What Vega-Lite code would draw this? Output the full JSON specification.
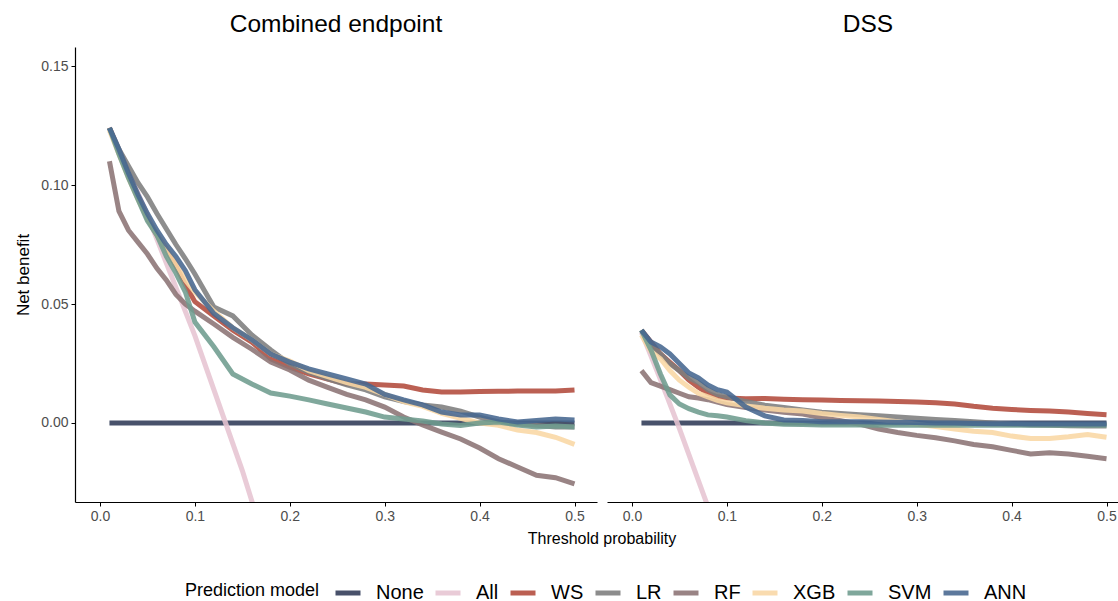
{
"$schema": "https://vega.github.io/schema/vega-lite/v6.json",
"padding": {"left": 14, "top": 11, "right": 0, "bottom": 0},
"background": "white",
"data": {"values": [
{"p":"C","m":"None","t":0.01,"v":0},{"p":"C","m":"None","t":0.5,"v":0},
{"p":"C","m":"All","t":0.01,"v":0.1242},{"p":"C","m":"All","t":0.05,"v":0.0874},{"p":"C","m":"All","t":0.1,"v":0.0367},{"p":"C","m":"All","t":0.15,"v":-0.02},{"p":"C","m":"All","t":0.2,"v":-0.0838},
{"p":"C","m":"WS","t":0.01,"v":0.124},{"p":"C","m":"WS","t":0.02,"v":0.114},{"p":"C","m":"WS","t":0.03,"v":0.104},{"p":"C","m":"WS","t":0.04,"v":0.095},{"p":"C","m":"WS","t":0.05,"v":0.086},{"p":"C","m":"WS","t":0.06,"v":0.079},{"p":"C","m":"WS","t":0.07,"v":0.073},{"p":"C","m":"WS","t":0.08,"v":0.066},{"p":"C","m":"WS","t":0.09,"v":0.058},{"p":"C","m":"WS","t":0.1,"v":0.051},{"p":"C","m":"WS","t":0.12,"v":0.045},{"p":"C","m":"WS","t":0.14,"v":0.039},{"p":"C","m":"WS","t":0.16,"v":0.034},{"p":"C","m":"WS","t":0.18,"v":0.027},{"p":"C","m":"WS","t":0.2,"v":0.0235},{"p":"C","m":"WS","t":0.22,"v":0.0206},{"p":"C","m":"WS","t":0.24,"v":0.0185},{"p":"C","m":"WS","t":0.26,"v":0.0164},{"p":"C","m":"WS","t":0.28,"v":0.0164},{"p":"C","m":"WS","t":0.3,"v":0.016},{"p":"C","m":"WS","t":0.32,"v":0.0155},{"p":"C","m":"WS","t":0.34,"v":0.0139},{"p":"C","m":"WS","t":0.36,"v":0.013},{"p":"C","m":"WS","t":0.38,"v":0.013},{"p":"C","m":"WS","t":0.4,"v":0.0132},{"p":"C","m":"WS","t":0.42,"v":0.0133},{"p":"C","m":"WS","t":0.44,"v":0.0134},{"p":"C","m":"WS","t":0.46,"v":0.0134},{"p":"C","m":"WS","t":0.48,"v":0.0134},{"p":"C","m":"WS","t":0.5,"v":0.0139},
{"p":"C","m":"LR","t":0.01,"v":0.124},{"p":"C","m":"LR","t":0.02,"v":0.115},{"p":"C","m":"LR","t":0.03,"v":0.108},{"p":"C","m":"LR","t":0.04,"v":0.101},{"p":"C","m":"LR","t":0.05,"v":0.095},{"p":"C","m":"LR","t":0.06,"v":0.088},{"p":"C","m":"LR","t":0.07,"v":0.0815},{"p":"C","m":"LR","t":0.08,"v":0.075},{"p":"C","m":"LR","t":0.09,"v":0.069},{"p":"C","m":"LR","t":0.1,"v":0.0626},{"p":"C","m":"LR","t":0.12,"v":0.0487},{"p":"C","m":"LR","t":0.14,"v":0.045},{"p":"C","m":"LR","t":0.16,"v":0.037},{"p":"C","m":"LR","t":0.18,"v":0.0307},{"p":"C","m":"LR","t":0.2,"v":0.0248},{"p":"C","m":"LR","t":0.22,"v":0.0214},{"p":"C","m":"LR","t":0.24,"v":0.0185},{"p":"C","m":"LR","t":0.26,"v":0.016},{"p":"C","m":"LR","t":0.28,"v":0.0139},{"p":"C","m":"LR","t":0.3,"v":0.011},{"p":"C","m":"LR","t":0.32,"v":0.009},{"p":"C","m":"LR","t":0.34,"v":0.0076},{"p":"C","m":"LR","t":0.36,"v":0.0067},{"p":"C","m":"LR","t":0.38,"v":0.005},{"p":"C","m":"LR","t":0.4,"v":0.0025},{"p":"C","m":"LR","t":0.42,"v":0.0004},{"p":"C","m":"LR","t":0.44,"v":-0.0004},{"p":"C","m":"LR","t":0.46,"v":-0.001},{"p":"C","m":"LR","t":0.48,"v":-0.0017},{"p":"C","m":"LR","t":0.5,"v":-0.0017},
{"p":"C","m":"RF","t":0.01,"v":0.11},{"p":"C","m":"RF","t":0.02,"v":0.089},{"p":"C","m":"RF","t":0.03,"v":0.081},{"p":"C","m":"RF","t":0.04,"v":0.076},{"p":"C","m":"RF","t":0.05,"v":0.071},{"p":"C","m":"RF","t":0.06,"v":0.065},{"p":"C","m":"RF","t":0.07,"v":0.06},{"p":"C","m":"RF","t":0.08,"v":0.054},{"p":"C","m":"RF","t":0.09,"v":0.05},{"p":"C","m":"RF","t":0.1,"v":0.047},{"p":"C","m":"RF","t":0.12,"v":0.0416},{"p":"C","m":"RF","t":0.14,"v":0.036},{"p":"C","m":"RF","t":0.16,"v":0.031},{"p":"C","m":"RF","t":0.18,"v":0.0256},{"p":"C","m":"RF","t":0.2,"v":0.0223},{"p":"C","m":"RF","t":0.22,"v":0.018},{"p":"C","m":"RF","t":0.24,"v":0.015},{"p":"C","m":"RF","t":0.26,"v":0.012},{"p":"C","m":"RF","t":0.28,"v":0.0097},{"p":"C","m":"RF","t":0.3,"v":0.0067},{"p":"C","m":"RF","t":0.32,"v":0.0025},{"p":"C","m":"RF","t":0.34,"v":-0.0008},{"p":"C","m":"RF","t":0.36,"v":-0.0038},{"p":"C","m":"RF","t":0.38,"v":-0.0067},{"p":"C","m":"RF","t":0.4,"v":-0.0105},{"p":"C","m":"RF","t":0.42,"v":-0.015},{"p":"C","m":"RF","t":0.44,"v":-0.0185},{"p":"C","m":"RF","t":0.46,"v":-0.022},{"p":"C","m":"RF","t":0.48,"v":-0.023},{"p":"C","m":"RF","t":0.5,"v":-0.0256},
{"p":"C","m":"XGB","t":0.01,"v":0.123},{"p":"C","m":"XGB","t":0.02,"v":0.113},{"p":"C","m":"XGB","t":0.03,"v":0.103},{"p":"C","m":"XGB","t":0.04,"v":0.094},{"p":"C","m":"XGB","t":0.05,"v":0.086},{"p":"C","m":"XGB","t":0.06,"v":0.079},{"p":"C","m":"XGB","t":0.07,"v":0.073},{"p":"C","m":"XGB","t":0.08,"v":0.067},{"p":"C","m":"XGB","t":0.09,"v":0.06},{"p":"C","m":"XGB","t":0.1,"v":0.055},{"p":"C","m":"XGB","t":0.12,"v":0.047},{"p":"C","m":"XGB","t":0.14,"v":0.04},{"p":"C","m":"XGB","t":0.16,"v":0.035},{"p":"C","m":"XGB","t":0.18,"v":0.029},{"p":"C","m":"XGB","t":0.2,"v":0.026},{"p":"C","m":"XGB","t":0.22,"v":0.022},{"p":"C","m":"XGB","t":0.24,"v":0.0195},{"p":"C","m":"XGB","t":0.26,"v":0.017},{"p":"C","m":"XGB","t":0.28,"v":0.015},{"p":"C","m":"XGB","t":0.3,"v":0.012},{"p":"C","m":"XGB","t":0.32,"v":0.009},{"p":"C","m":"XGB","t":0.34,"v":0.007},{"p":"C","m":"XGB","t":0.36,"v":0.004},{"p":"C","m":"XGB","t":0.38,"v":0.002},{"p":"C","m":"XGB","t":0.4,"v":0},{"p":"C","m":"XGB","t":0.42,"v":-0.001},{"p":"C","m":"XGB","t":0.44,"v":-0.003},{"p":"C","m":"XGB","t":0.46,"v":-0.004},{"p":"C","m":"XGB","t":0.48,"v":-0.006},{"p":"C","m":"XGB","t":0.5,"v":-0.009},
{"p":"C","m":"SVM","t":0.01,"v":0.124},{"p":"C","m":"SVM","t":0.02,"v":0.113},{"p":"C","m":"SVM","t":0.03,"v":0.103},{"p":"C","m":"SVM","t":0.04,"v":0.094},{"p":"C","m":"SVM","t":0.05,"v":0.085},{"p":"C","m":"SVM","t":0.06,"v":0.079},{"p":"C","m":"SVM","t":0.07,"v":0.07},{"p":"C","m":"SVM","t":0.08,"v":0.063},{"p":"C","m":"SVM","t":0.09,"v":0.055},{"p":"C","m":"SVM","t":0.1,"v":0.0424},{"p":"C","m":"SVM","t":0.12,"v":0.032},{"p":"C","m":"SVM","t":0.14,"v":0.0206},{"p":"C","m":"SVM","t":0.16,"v":0.0164},{"p":"C","m":"SVM","t":0.18,"v":0.0126},{"p":"C","m":"SVM","t":0.2,"v":0.0113},{"p":"C","m":"SVM","t":0.22,"v":0.0097},{"p":"C","m":"SVM","t":0.24,"v":0.008},{"p":"C","m":"SVM","t":0.26,"v":0.0063},{"p":"C","m":"SVM","t":0.28,"v":0.0046},{"p":"C","m":"SVM","t":0.3,"v":0.0025},{"p":"C","m":"SVM","t":0.32,"v":0.0017},{"p":"C","m":"SVM","t":0.34,"v":0.0008},{"p":"C","m":"SVM","t":0.36,"v":-0.0004},{"p":"C","m":"SVM","t":0.38,"v":-0.001},{"p":"C","m":"SVM","t":0.4,"v":0},{"p":"C","m":"SVM","t":0.42,"v":0.0004},{"p":"C","m":"SVM","t":0.44,"v":-0.0008},{"p":"C","m":"SVM","t":0.46,"v":-0.0017},{"p":"C","m":"SVM","t":0.48,"v":-0.0013},{"p":"C","m":"SVM","t":0.5,"v":-0.0017},
{"p":"C","m":"ANN","t":0.01,"v":0.124},{"p":"C","m":"ANN","t":0.02,"v":0.115},{"p":"C","m":"ANN","t":0.03,"v":0.105},{"p":"C","m":"ANN","t":0.04,"v":0.096},{"p":"C","m":"ANN","t":0.05,"v":0.088},{"p":"C","m":"ANN","t":0.06,"v":0.081},{"p":"C","m":"ANN","t":0.07,"v":0.075},{"p":"C","m":"ANN","t":0.08,"v":0.07},{"p":"C","m":"ANN","t":0.09,"v":0.064},{"p":"C","m":"ANN","t":0.1,"v":0.056},{"p":"C","m":"ANN","t":0.12,"v":0.046},{"p":"C","m":"ANN","t":0.14,"v":0.04},{"p":"C","m":"ANN","t":0.16,"v":0.035},{"p":"C","m":"ANN","t":0.18,"v":0.029},{"p":"C","m":"ANN","t":0.2,"v":0.0256},{"p":"C","m":"ANN","t":0.22,"v":0.0227},{"p":"C","m":"ANN","t":0.24,"v":0.0206},{"p":"C","m":"ANN","t":0.26,"v":0.0185},{"p":"C","m":"ANN","t":0.28,"v":0.0164},{"p":"C","m":"ANN","t":0.3,"v":0.012},{"p":"C","m":"ANN","t":0.32,"v":0.0097},{"p":"C","m":"ANN","t":0.34,"v":0.0076},{"p":"C","m":"ANN","t":0.36,"v":0.0046},{"p":"C","m":"ANN","t":0.38,"v":0.0034},{"p":"C","m":"ANN","t":0.4,"v":0.0034},{"p":"C","m":"ANN","t":0.42,"v":0.0017},{"p":"C","m":"ANN","t":0.44,"v":0.0004},{"p":"C","m":"ANN","t":0.46,"v":0.001},{"p":"C","m":"ANN","t":0.48,"v":0.0017},{"p":"C","m":"ANN","t":0.5,"v":0.0013},
{"p":"D","m":"None","t":0.01,"v":0},{"p":"D","m":"None","t":0.5,"v":0},
{"p":"D","m":"All","t":0.01,"v":0.0381},{"p":"D","m":"All","t":0.03,"v":0.0183},{"p":"D","m":"All","t":0.05,"v":-0.0024},{"p":"D","m":"All","t":0.08,"v":-0.0351},{"p":"D","m":"All","t":0.1,"v":-0.0581},
{"p":"D","m":"WS","t":0.01,"v":0.039},{"p":"D","m":"WS","t":0.02,"v":0.034},{"p":"D","m":"WS","t":0.03,"v":0.029},{"p":"D","m":"WS","t":0.04,"v":0.0255},{"p":"D","m":"WS","t":0.05,"v":0.022},{"p":"D","m":"WS","t":0.06,"v":0.018},{"p":"D","m":"WS","t":0.07,"v":0.015},{"p":"D","m":"WS","t":0.08,"v":0.0125},{"p":"D","m":"WS","t":0.09,"v":0.011},{"p":"D","m":"WS","t":0.1,"v":0.0105},{"p":"D","m":"WS","t":0.12,"v":0.0102},{"p":"D","m":"WS","t":0.14,"v":0.0103},{"p":"D","m":"WS","t":0.16,"v":0.01},{"p":"D","m":"WS","t":0.18,"v":0.0098},{"p":"D","m":"WS","t":0.2,"v":0.0097},{"p":"D","m":"WS","t":0.22,"v":0.0095},{"p":"D","m":"WS","t":0.24,"v":0.0093},{"p":"D","m":"WS","t":0.26,"v":0.0092},{"p":"D","m":"WS","t":0.28,"v":0.009},{"p":"D","m":"WS","t":0.3,"v":0.0088},{"p":"D","m":"WS","t":0.32,"v":0.0085},{"p":"D","m":"WS","t":0.34,"v":0.008},{"p":"D","m":"WS","t":0.36,"v":0.007},{"p":"D","m":"WS","t":0.38,"v":0.0062},{"p":"D","m":"WS","t":0.4,"v":0.0057},{"p":"D","m":"WS","t":0.42,"v":0.0053},{"p":"D","m":"WS","t":0.44,"v":0.005},{"p":"D","m":"WS","t":0.46,"v":0.0046},{"p":"D","m":"WS","t":0.48,"v":0.004},{"p":"D","m":"WS","t":0.5,"v":0.0035},
{"p":"D","m":"LR","t":0.01,"v":0.039},{"p":"D","m":"LR","t":0.02,"v":0.033},{"p":"D","m":"LR","t":0.03,"v":0.029},{"p":"D","m":"LR","t":0.04,"v":0.025},{"p":"D","m":"LR","t":0.05,"v":0.022},{"p":"D","m":"LR","t":0.06,"v":0.019},{"p":"D","m":"LR","t":0.07,"v":0.017},{"p":"D","m":"LR","t":0.08,"v":0.014},{"p":"D","m":"LR","t":0.09,"v":0.012},{"p":"D","m":"LR","t":0.1,"v":0.011},{"p":"D","m":"LR","t":0.12,"v":0.009},{"p":"D","m":"LR","t":0.14,"v":0.0075},{"p":"D","m":"LR","t":0.16,"v":0.0065},{"p":"D","m":"LR","t":0.18,"v":0.0055},{"p":"D","m":"LR","t":0.2,"v":0.0045},{"p":"D","m":"LR","t":0.22,"v":0.004},{"p":"D","m":"LR","t":0.24,"v":0.0035},{"p":"D","m":"LR","t":0.26,"v":0.003},{"p":"D","m":"LR","t":0.28,"v":0.0025},{"p":"D","m":"LR","t":0.3,"v":0.002},{"p":"D","m":"LR","t":0.32,"v":0.0015},{"p":"D","m":"LR","t":0.34,"v":0.001},{"p":"D","m":"LR","t":0.36,"v":0.0005},{"p":"D","m":"LR","t":0.38,"v":0},{"p":"D","m":"LR","t":0.4,"v":-0.0005},{"p":"D","m":"LR","t":0.42,"v":-0.0008},{"p":"D","m":"LR","t":0.44,"v":-0.001},{"p":"D","m":"LR","t":0.46,"v":-0.0012},{"p":"D","m":"LR","t":0.48,"v":-0.0013},{"p":"D","m":"LR","t":0.5,"v":-0.0013},
{"p":"D","m":"RF","t":0.01,"v":0.022},{"p":"D","m":"RF","t":0.02,"v":0.017},{"p":"D","m":"RF","t":0.03,"v":0.0155},{"p":"D","m":"RF","t":0.04,"v":0.014},{"p":"D","m":"RF","t":0.05,"v":0.0125},{"p":"D","m":"RF","t":0.06,"v":0.011},{"p":"D","m":"RF","t":0.07,"v":0.0105},{"p":"D","m":"RF","t":0.08,"v":0.0098},{"p":"D","m":"RF","t":0.09,"v":0.0088},{"p":"D","m":"RF","t":0.1,"v":0.0078},{"p":"D","m":"RF","t":0.12,"v":0.0065},{"p":"D","m":"RF","t":0.14,"v":0.0055},{"p":"D","m":"RF","t":0.16,"v":0.0045},{"p":"D","m":"RF","t":0.18,"v":0.0038},{"p":"D","m":"RF","t":0.2,"v":0.0022},{"p":"D","m":"RF","t":0.22,"v":0.001},{"p":"D","m":"RF","t":0.24,"v":-0.0005},{"p":"D","m":"RF","t":0.26,"v":-0.0025},{"p":"D","m":"RF","t":0.28,"v":-0.004},{"p":"D","m":"RF","t":0.3,"v":-0.0052},{"p":"D","m":"RF","t":0.32,"v":-0.0062},{"p":"D","m":"RF","t":0.34,"v":-0.0075},{"p":"D","m":"RF","t":0.36,"v":-0.009},{"p":"D","m":"RF","t":0.38,"v":-0.01},{"p":"D","m":"RF","t":0.4,"v":-0.0115},{"p":"D","m":"RF","t":0.42,"v":-0.013},{"p":"D","m":"RF","t":0.44,"v":-0.0125},{"p":"D","m":"RF","t":0.46,"v":-0.013},{"p":"D","m":"RF","t":0.48,"v":-0.014},{"p":"D","m":"RF","t":0.5,"v":-0.015},
{"p":"D","m":"XGB","t":0.01,"v":0.037},{"p":"D","m":"XGB","t":0.02,"v":0.03},{"p":"D","m":"XGB","t":0.03,"v":0.027},{"p":"D","m":"XGB","t":0.04,"v":0.022},{"p":"D","m":"XGB","t":0.05,"v":0.018},{"p":"D","m":"XGB","t":0.06,"v":0.015},{"p":"D","m":"XGB","t":0.07,"v":0.0125},{"p":"D","m":"XGB","t":0.08,"v":0.011},{"p":"D","m":"XGB","t":0.09,"v":0.0095},{"p":"D","m":"XGB","t":0.1,"v":0.0085},{"p":"D","m":"XGB","t":0.12,"v":0.0072},{"p":"D","m":"XGB","t":0.14,"v":0.0062},{"p":"D","m":"XGB","t":0.16,"v":0.0055},{"p":"D","m":"XGB","t":0.18,"v":0.005},{"p":"D","m":"XGB","t":0.2,"v":0.004},{"p":"D","m":"XGB","t":0.22,"v":0.0032},{"p":"D","m":"XGB","t":0.24,"v":0.0025},{"p":"D","m":"XGB","t":0.26,"v":0.0015},{"p":"D","m":"XGB","t":0.28,"v":0.0005},{"p":"D","m":"XGB","t":0.3,"v":-0.0005},{"p":"D","m":"XGB","t":0.32,"v":-0.0015},{"p":"D","m":"XGB","t":0.34,"v":-0.0025},{"p":"D","m":"XGB","t":0.36,"v":-0.0035},{"p":"D","m":"XGB","t":0.38,"v":-0.004},{"p":"D","m":"XGB","t":0.4,"v":-0.0055},{"p":"D","m":"XGB","t":0.42,"v":-0.0065},{"p":"D","m":"XGB","t":0.44,"v":-0.0065},{"p":"D","m":"XGB","t":0.46,"v":-0.0058},{"p":"D","m":"XGB","t":0.48,"v":-0.0048},{"p":"D","m":"XGB","t":0.5,"v":-0.006},
{"p":"D","m":"SVM","t":0.01,"v":0.039},{"p":"D","m":"SVM","t":0.02,"v":0.0307},{"p":"D","m":"SVM","t":0.03,"v":0.0206},{"p":"D","m":"SVM","t":0.04,"v":0.0118},{"p":"D","m":"SVM","t":0.05,"v":0.008},{"p":"D","m":"SVM","t":0.06,"v":0.006},{"p":"D","m":"SVM","t":0.07,"v":0.0046},{"p":"D","m":"SVM","t":0.08,"v":0.0034},{"p":"D","m":"SVM","t":0.09,"v":0.003},{"p":"D","m":"SVM","t":0.1,"v":0.0025},{"p":"D","m":"SVM","t":0.12,"v":0.001},{"p":"D","m":"SVM","t":0.14,"v":0},{"p":"D","m":"SVM","t":0.16,"v":-0.0005},{"p":"D","m":"SVM","t":0.18,"v":-0.0006},{"p":"D","m":"SVM","t":0.2,"v":-0.0008},{"p":"D","m":"SVM","t":0.22,"v":-0.0008},{"p":"D","m":"SVM","t":0.24,"v":-0.0008},{"p":"D","m":"SVM","t":0.26,"v":-0.0009},{"p":"D","m":"SVM","t":0.28,"v":-0.001},{"p":"D","m":"SVM","t":0.3,"v":-0.001},{"p":"D","m":"SVM","t":0.32,"v":-0.001},{"p":"D","m":"SVM","t":0.34,"v":-0.001},{"p":"D","m":"SVM","t":0.36,"v":-0.001},{"p":"D","m":"SVM","t":0.38,"v":-0.001},{"p":"D","m":"SVM","t":0.4,"v":-0.001},{"p":"D","m":"SVM","t":0.42,"v":-0.001},{"p":"D","m":"SVM","t":0.44,"v":-0.001},{"p":"D","m":"SVM","t":0.46,"v":-0.001},{"p":"D","m":"SVM","t":0.48,"v":-0.001},{"p":"D","m":"SVM","t":0.5,"v":-0.001},
{"p":"D","m":"ANN","t":0.01,"v":0.039},{"p":"D","m":"ANN","t":0.02,"v":0.034},{"p":"D","m":"ANN","t":0.03,"v":0.032},{"p":"D","m":"ANN","t":0.04,"v":0.029},{"p":"D","m":"ANN","t":0.05,"v":0.025},{"p":"D","m":"ANN","t":0.06,"v":0.021},{"p":"D","m":"ANN","t":0.07,"v":0.019},{"p":"D","m":"ANN","t":0.08,"v":0.016},{"p":"D","m":"ANN","t":0.09,"v":0.014},{"p":"D","m":"ANN","t":0.1,"v":0.013},{"p":"D","m":"ANN","t":0.12,"v":0.0067},{"p":"D","m":"ANN","t":0.14,"v":0.003},{"p":"D","m":"ANN","t":0.16,"v":0.0013},{"p":"D","m":"ANN","t":0.18,"v":0.001},{"p":"D","m":"ANN","t":0.2,"v":0.0005},{"p":"D","m":"ANN","t":0.22,"v":0.0005},{"p":"D","m":"ANN","t":0.24,"v":0.0005},{"p":"D","m":"ANN","t":0.26,"v":0.0004},{"p":"D","m":"ANN","t":0.28,"v":0.0003},{"p":"D","m":"ANN","t":0.3,"v":0.0002},{"p":"D","m":"ANN","t":0.32,"v":0},{"p":"D","m":"ANN","t":0.34,"v":0},{"p":"D","m":"ANN","t":0.36,"v":-0.0002},{"p":"D","m":"ANN","t":0.38,"v":-0.0003},{"p":"D","m":"ANN","t":0.4,"v":-0.0003},{"p":"D","m":"ANN","t":0.42,"v":-0.0004},{"p":"D","m":"ANN","t":0.44,"v":-0.0004},{"p":"D","m":"ANN","t":0.46,"v":-0.0004},{"p":"D","m":"ANN","t":0.48,"v":-0.0004},{"p":"D","m":"ANN","t":0.5,"v":-0.0004}
]},
"spacing": 10,
"facet": {"column": {"field": "p", "type": "nominal", "sort": ["C", "D"],
  "header": {"title": "Threshold probability", "titleOrient": "bottom", "labelOrient": "top",
    "labelExpr": "datum.value == 'C' ? 'Combined endpoint' : 'DSS'",
    "labelFontSize": 24.5, "labelColor": "black", "labelPadding": 10,
    "titleFontSize": 16, "titleFontWeight": "normal", "titleColor": "black", "titlePadding": -2}}},
"spec": {
  "width": 522, "height": 455,
  "mark": {"type": "line", "strokeWidth": 5, "opacity": 0.88, "clip": true, "strokeCap": "butt"},
  "encoding": {
    "x": {"field": "t", "type": "quantitative",
      "scale": {"domain": [-0.0263, 0.5237], "nice": false, "zero": false},
      "axis": {"title": null, "values": [0, 0.1, 0.2, 0.3, 0.4, 0.5], "format": ".1f", "grid": false}},
    "y": {"field": "v", "type": "quantitative",
      "scale": {"domain": [-0.0332, 0.158], "nice": false, "zero": false},
      "axis": {"title": "Net benefit", "values": [0, 0.05, 0.1, 0.15], "format": ".2f", "grid": false}},
    "color": {"field": "m", "type": "nominal", "title": "Prediction model",
      "scale": {"domain": ["None", "All", "WS", "LR", "RF", "XGB", "SVM", "ANN"],
        "range": ["#2f3a56", "#e6c4d2", "#b24a3b", "#7d7d7d", "#8b7374", "#f9d7a4", "#6e9c8e", "#46668f"]},
      "legend": {"orient": "none", "legendX": 110, "legendY": 531, "direction": "horizontal", "titleOrient": "left"}}
  }
},
"config": {
  "font": "Liberation Sans",
  "view": {"stroke": null},
  "axis": {"domainColor": "black", "domainWidth": 1.2, "tickColor": "black", "tickSize": 4, "labelColor": "#4d4d4d", "labelFontSize": 14, "labelPadding": 3, "titleFontSize": 17, "titleFontWeight": "normal", "titleColor": "black", "titlePadding": 8},
  "legend": {"symbolType": "stroke", "symbolStrokeWidth": 5, "symbolSize": 625, "labelFontSize": 20, "labelColor": "black", "titleFontSize": 18, "titleFontWeight": "normal", "titleColor": "black", "titlePadding": 13, "columnPadding": 1, "labelOffset": 13, "symbolOpacity": 0.88}
}
}
